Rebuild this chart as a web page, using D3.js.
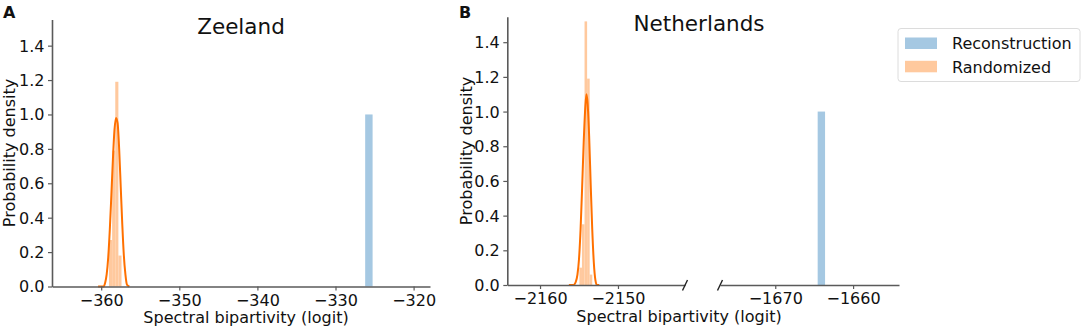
<!DOCTYPE html>
<html>
<head>
<meta charset="utf-8">
<script src="https://cdn.jsdelivr.net/npm/d3@7"></script>
<style>
  html, body { margin: 0; padding: 0; background: #fff; }
  svg { display: block; font-family: "DejaVu Sans", sans-serif; }
</style>
</head>
<body>
<svg id="chart" width="1084" height="330"></svg>
<script>
// ---------- data ----------
const yTicks = [0, 0.2, 0.4, 0.6, 0.8, 1.0, 1.2, 1.4];
const zeelandXTicks = [-360, -350, -340, -330, -320];
const nlLeftXTicks = [-2160, -2150];
const nlRightXTicks = [-1670, -1660];
const seriesNames = ["Reconstruction", "Randomized"];

// histogram bins: [x0, x1, density]
const zeelandRandomizedBins = [
  [-359.0, -358.6, 0.27],
  [-358.6, -358.2, 0.79],
  [-358.2, -357.8, 1.19],
  [-357.8, -357.4, 0.18]
];
const zeelandReconstructionBins = [
  [-326.2, -325.25, 1.0]
];
const nlRandomizedBins = [
  [-2154.95, -2154.62, 0.10],
  [-2154.62, -2154.29, 0.35],
  [-2154.29, -2153.96, 1.52],
  [-2153.96, -2153.63, 1.19],
  [-2153.63, -2153.30, 0.06]
];
const nlReconstructionBins = [
  [-1664.55, -1663.6, 1.0]
];

// KDE curves: [x, density]
const zeelandKde = [
  [-360.4, 0], [-359.7, 0.0], [-359.5, 0.02], [-359.3, 0.07], [-359.1, 0.17],
  [-358.9, 0.33], [-358.7, 0.53], [-358.5, 0.74], [-358.3, 0.91],
  [-358.1, 0.98], [-357.9, 0.95], [-357.7, 0.80], [-357.5, 0.58],
  [-357.3, 0.36], [-357.1, 0.18], [-356.9, 0.07], [-356.7, 0.01], [-356.4, 0]
];
const nlKde = [
  [-2156.3, 0], [-2155.7, 0.0], [-2155.4, 0.02], [-2155.2, 0.06], [-2155.0, 0.15],
  [-2154.8, 0.32], [-2154.6, 0.56], [-2154.4, 0.82], [-2154.2, 1.02],
  [-2154.05, 1.10], [-2153.9, 1.05], [-2153.7, 0.86], [-2153.5, 0.58],
  [-2153.3, 0.32], [-2153.1, 0.13], [-2152.9, 0.03], [-2152.7, 0.0], [-2152.4, 0]
];

// ---------- styles ----------
const C = {
  blue: "#a5c8e2",
  orangeFill: "#ffc99e",
  orangeLine: "#ff7000",
  axis: "#5a5a5a",
  text: "#111"
};
const FONT_TICK = "16px";
const FONT_LABEL = "16px";

const svg = d3.select("#chart");

function styleAxis(g) {
  g.select(".domain").attr("stroke", C.axis).attr("stroke-width", 1.6);
  g.selectAll(".tick line").attr("stroke", C.axis).attr("stroke-width", 1.2);
  g.selectAll(".tick text").attr("fill", C.text).style("font-size", FONT_TICK)
    .style("font-family", '"DejaVu Sans", sans-serif');
}

function drawBars(g, bins, x, y, color) {
  g.selectAll(null).data(bins).enter().append("rect")
    .attr("x", d => x(d[0]))
    .attr("width", d => x(d[1]) - x(d[0]))
    .attr("y", d => y(d[2]))
    .attr("height", d => y(0) - y(d[2]))
    .attr("fill", color);
}

function drawKde(g, pts, x, y) {
  g.append("path").datum(pts)
    .attr("fill", "none")
    .attr("stroke", C.orangeLine)
    .attr("stroke-width", 2)
    .attr("d", d3.line().x(d => x(d[0])).y(d => y(d[1])).curve(d3.curveMonotoneX));
}

function yAxis(y, x0) {
  const g = svg.append("g").attr("transform", `translate(${x0},0)`)
    .call(d3.axisLeft(y).tickValues(yTicks).tickFormat(d3.format(".1f"))
      .tickSize(4).tickSizeOuter(0).tickPadding(3.5));
  styleAxis(g);
  g.selectAll(".tick text").attr("dy", "0.34em");
}

function xAxis(x, ticks, y0) {
  const g = svg.append("g").attr("transform", `translate(0,${y0})`)
    .call(d3.axisBottom(x).tickValues(ticks).tickFormat(d => d3.format("d")(d).replace("-", "\u2212"))
      .tickSize(4).tickSizeOuter(0).tickPadding(3.5));
  styleAxis(g);
  g.selectAll(".tick text").attr("dy", "0.72em");
  return g;
}

// ---------- Panel A: Zeeland ----------
const xA = d3.scaleLinear().domain([-366.3, -317.9]).range([52, 430]);
const yA = d3.scaleLinear().domain([0, 1.552]).range([286.5, 19.5]);

const gA = svg.append("g");
drawBars(gA, zeelandRandomizedBins, xA, yA, C.orangeFill);
drawBars(gA, zeelandReconstructionBins, xA, yA, C.blue);
drawKde(gA, zeelandKde, xA, yA);
yAxis(yA, 52);
xAxis(xA, zeelandXTicks, 286.5);

svg.append("text").attr("x", 241).attr("y", 34).attr("text-anchor", "middle")
  .style("font-size", "21.5px").attr("fill", C.text).text("Zeeland");
svg.append("text").attr("x", 3).attr("y", 18).style("font-size", "16px")
  .style("font-weight", "bold").attr("fill", C.text).text("A");
svg.append("text").attr("transform", "translate(15,153) rotate(-90)")
  .attr("text-anchor", "middle").style("font-size", FONT_LABEL).attr("fill", C.text)
  .text("Probability density");
svg.append("text").attr("x", 246).attr("y", 323).attr("text-anchor", "middle")
  .style("font-size", FONT_LABEL).attr("fill", C.text).text("Spectral bipartivity (logit)");

// ---------- Panel B: Netherlands (broken x axis) ----------
const xB1 = d3.scaleLinear().domain([-2164.2, -2141.4]).range([507.3, 685]);
const xB2 = d3.scaleLinear().domain([-1677.1, -1654.1]).range([720, 899]);
const yB = d3.scaleLinear().domain([0, 1.547]).range([285, 16.7]);

const gB = svg.append("g");
drawBars(gB, nlRandomizedBins, xB1, yB, C.orangeFill);
drawBars(gB, nlReconstructionBins, xB2, yB, C.blue);
drawKde(gB, nlKde, xB1, yB);
yAxis(yB, 507.3);
xAxis(xB1, nlLeftXTicks, 285);
xAxis(xB2, nlRightXTicks, 285);

// break marks
[xB1.range()[1], xB2.range()[0]].forEach(px => {
  svg.append("line")
    .attr("x1", px - 2.5).attr("y1", 290.5)
    .attr("x2", px + 2.5).attr("y2", 280)
    .attr("stroke", "#222").attr("stroke-width", 1.4);
});

svg.append("text").attr("x", 699).attr("y", 30.5).attr("text-anchor", "middle")
  .style("font-size", "21.5px").attr("fill", C.text).text("Netherlands");
svg.append("text").attr("x", 459).attr("y", 18).style("font-size", "16px")
  .style("font-weight", "bold").attr("fill", C.text).text("B");
svg.append("text").attr("transform", "translate(472,151) rotate(-90)")
  .attr("text-anchor", "middle").style("font-size", FONT_LABEL).attr("fill", C.text)
  .text("Probability density");
svg.append("text").attr("x", 679).attr("y", 321.7).attr("text-anchor", "middle")
  .style("font-size", FONT_LABEL).attr("fill", C.text).text("Spectral bipartivity (logit)");

// ---------- Legend ----------
const lg = svg.append("g");
lg.append("rect").attr("x", 898).attr("y", 28.5).attr("width", 182).attr("height", 53)
  .attr("rx", 3).attr("fill", "#fff").attr("stroke", "#dcdcdc").attr("stroke-width", 1);
const legendColors = [C.blue, C.orangeFill];
seriesNames.forEach((name, i) => {
  lg.append("rect").attr("x", 905).attr("y", 37.5 + i * 23.3).attr("width", 32).attr("height", 11.5)
    .attr("fill", legendColors[i]);
  lg.append("text").attr("x", 952).attr("y", 49 + i * 23.5).style("font-size", "16px")
    .attr("fill", C.text).text(name);
});
</script>
</body>
</html>
